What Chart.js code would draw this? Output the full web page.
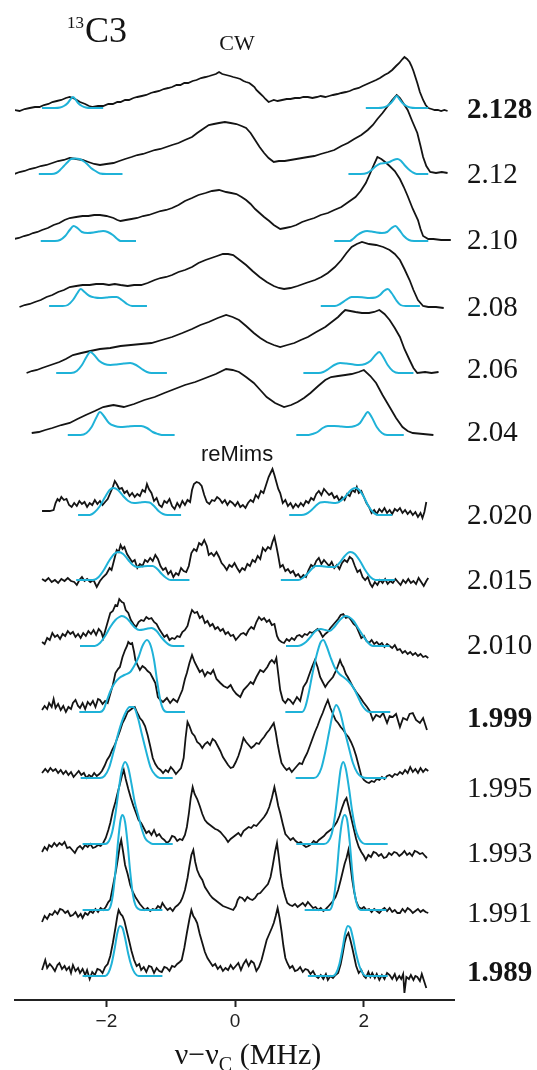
<!DOCTYPE html>
<html>
<head>
<meta charset="utf-8">
<script src="https://cdn.jsdelivr.net/npm/chart.js@4.4.1/dist/chart.umd.min.js"></script>
<style>
  html, body { margin: 0; padding: 0; background: #fff; }
  #wrap { position: relative; width: 537px; height: 1070px; }
</style>
</head>
<body>
<div id="wrap"><canvas id="spectra" width="537" height="1070"></canvas></div>
<script>
// g-value of each field position, top to bottom
const cwFields = ['2.128', '2.12', '2.10', '2.08', '2.06', '2.04'];
const reFields = ['2.020', '2.015', '2.010', '1.999', '1.995', '1.993', '1.991', '1.989'];
const boldFields = ['2.128', '1.999', '1.989'];

// stacking offset of each trace (a.u.), same order as the fields
const traceOffsets = [889, 827, 761, 693, 627, 565, 485, 420, 354, 288, 222, 156, 90, 24];
const labelLevels = [889, 825, 759, 692, 630, 567, 484, 419, 354, 280, 211, 146, 86, 26];

const xTicks = [-2, 0, 2];

// CW spectra: [nu - nuC (MHz), intensity]
const cw2128 = [[-3.43,1],[-3.35,0],[-3.27,2],[-3.19,3],[-3.11,4],[-3.04,4],[-2.97,6],[-2.90,7],[-2.84,9],[-2.77,10],[-2.70,11],[-2.63,13],[-2.57,14],[-2.52,13],[-2.46,11],[-2.41,9],[-2.33,7],[-2.27,5],[-2.21,4],[-2.13,5],[-2.05,5],[-1.97,7],[-1.90,7],[-1.83,9],[-1.78,9],[-1.71,11],[-1.65,11],[-1.58,13],[-1.52,14],[-1.45,15],[-1.38,16],[-1.31,18],[-1.25,19],[-1.18,20],[-1.11,22],[-1.04,23],[-0.98,24],[-0.91,26],[-0.85,26],[-0.79,28],[-0.73,28],[-0.66,30],[-0.60,31],[-0.53,33],[-0.46,34],[-0.40,35],[-0.35,36],[-0.30,37],[-0.25,39],[-0.20,37],[-0.14,36],[-0.08,35],[-0.03,34],[0.03,33],[0.08,32],[0.13,30],[0.17,29],[0.22,28],[0.26,26],[0.30,24],[0.33,21],[0.38,18],[0.43,15],[0.47,12],[0.52,9],[0.56,10],[0.60,11],[0.66,10],[0.73,11],[0.80,12],[0.86,12],[0.93,13],[1.00,13],[1.06,14],[1.13,14],[1.20,13],[1.27,14],[1.33,15],[1.40,14],[1.46,15],[1.52,16],[1.59,17],[1.65,18],[1.72,19],[1.78,20],[1.85,22],[1.92,23],[1.98,25],[2.05,27],[2.12,29],[2.19,31],[2.25,33],[2.32,36],[2.38,38],[2.44,41],[2.50,45],[2.55,48],[2.60,52],[2.63,54],[2.67,52],[2.71,49],[2.74,45],[2.77,40],[2.80,34],[2.83,28],[2.87,19],[2.92,11],[2.96,6],[3.00,3],[3.05,2],[3.10,1],[3.15,1],[3.20,0],[3.25,1],[3.30,0]];
const cw212 = [[-3.43,-1],[-3.35,1],[-3.27,2],[-3.19,4],[-3.11,5],[-3.02,7],[-2.93,8],[-2.84,10],[-2.75,12],[-2.66,13],[-2.57,15],[-2.47,14],[-2.37,13],[-2.28,11],[-2.19,9],[-2.10,8],[-2.00,9],[-1.89,10],[-1.80,12],[-1.71,14],[-1.61,16],[-1.52,18],[-1.43,19],[-1.34,21],[-1.25,23],[-1.16,24],[-1.07,26],[-0.98,28],[-0.88,30],[-0.78,33],[-0.67,36],[-0.59,40],[-0.50,44],[-0.41,48],[-0.33,49],[-0.25,50],[-0.16,51],[-0.07,50],[0.02,49],[0.10,47],[0.17,45],[0.24,40],[0.31,33],[0.38,26],[0.45,20],[0.52,15],[0.60,11],[0.68,12],[0.77,12],[0.86,13],[0.95,14],[1.04,15],[1.13,16],[1.23,17],[1.33,19],[1.44,21],[1.54,23],[1.65,27],[1.75,30],[1.85,34],[1.96,38],[2.06,43],[2.14,48],[2.21,54],[2.29,60],[2.36,66],[2.44,73],[2.51,78],[2.56,75],[2.62,69],[2.68,63],[2.75,52],[2.83,40],[2.88,27],[2.92,16],[2.97,7],[3.03,1],[3.12,0],[3.21,1],[3.30,0]];
const cw210 = [[-3.44,0],[-3.36,1],[-3.28,3],[-3.21,4],[-3.14,6],[-3.07,7],[-3.00,9],[-2.91,11],[-2.82,14],[-2.73,16],[-2.65,19],[-2.57,21],[-2.47,22],[-2.37,23],[-2.28,23],[-2.19,24],[-2.10,24],[-2.00,23],[-1.89,21],[-1.83,19],[-1.78,18],[-1.70,19],[-1.61,20],[-1.52,21],[-1.43,23],[-1.34,24],[-1.25,26],[-1.16,28],[-1.07,29],[-0.98,31],[-0.88,34],[-0.78,38],[-0.67,41],[-0.57,44],[-0.46,46],[-0.36,48],[-0.25,49],[-0.14,47],[-0.06,46],[0.02,45],[0.10,42],[0.17,39],[0.24,35],[0.31,30],[0.38,26],[0.45,22],[0.53,18],[0.60,14],[0.70,10],[0.78,11],[0.86,12],[0.95,14],[1.04,17],[1.13,19],[1.23,21],[1.33,24],[1.44,26],[1.54,29],[1.65,32],[1.76,37],[1.87,42],[1.95,48],[2.03,56],[2.10,66],[2.16,75],[2.21,82],[2.27,80],[2.33,77],[2.40,73],[2.48,68],[2.56,60],[2.62,52],[2.68,43],[2.76,30],[2.84,19],[2.88,10],[2.92,3],[3.00,0],[3.08,0],[3.20,-1],[3.35,-1]];
const cw208 = [[-3.35,0],[-3.27,2],[-3.19,3],[-3.11,5],[-3.02,7],[-2.93,10],[-2.84,12],[-2.75,15],[-2.66,17],[-2.57,20],[-2.47,21],[-2.37,22],[-2.26,22],[-2.16,23],[-2.05,23],[-1.96,22],[-1.87,23],[-1.78,22],[-1.67,21],[-1.57,22],[-1.46,22],[-1.36,24],[-1.25,27],[-1.16,29],[-1.07,30],[-0.98,32],[-0.88,35],[-0.78,37],[-0.67,40],[-0.57,44],[-0.46,47],[-0.37,49],[-0.28,51],[-0.19,53],[-0.11,53],[-0.03,52],[0.07,47],[0.17,42],[0.27,36],[0.38,30],[0.49,25],[0.60,21],[0.68,19],[0.76,18],[0.86,19],[0.97,21],[1.10,24],[1.24,27],[1.34,30],[1.44,34],[1.55,40],[1.65,47],[1.73,54],[1.81,60],[1.89,63],[1.97,65],[2.08,63],[2.19,62],[2.30,60],[2.40,57],[2.48,53],[2.56,47],[2.63,38],[2.71,27],[2.77,17],[2.84,7],[2.92,1],[3.00,0],[3.12,0],[3.24,-1]];
const cw206 = [[-3.24,0],[-3.16,2],[-3.08,3],[-3.00,5],[-2.91,7],[-2.82,9],[-2.73,11],[-2.63,14],[-2.52,18],[-2.39,20],[-2.25,22],[-2.10,24],[-1.94,25],[-1.78,27],[-1.62,28],[-1.46,29],[-1.30,30],[-1.14,33],[-0.98,36],[-0.82,40],[-0.67,44],[-0.54,48],[-0.41,51],[-0.27,55],[-0.14,58],[-0.04,56],[0.06,53],[0.17,47],[0.29,40],[0.39,35],[0.49,31],[0.60,28],[0.70,26],[0.81,28],[0.92,30],[1.02,33],[1.13,36],[1.26,41],[1.40,46],[1.50,51],[1.60,56],[1.66,60],[1.71,63],[1.79,62],[1.87,61],[1.97,60],[2.08,60],[2.16,61],[2.24,63],[2.32,59],[2.40,53],[2.48,45],[2.56,36],[2.63,24],[2.71,13],[2.77,5],[2.83,0],[2.95,1],[3.05,0],[3.16,1]];
const cw204 = [[-3.16,2],[-3.05,3],[-2.95,5],[-2.84,7],[-2.70,10],[-2.57,12],[-2.45,16],[-2.32,20],[-2.18,24],[-2.05,28],[-1.97,29],[-1.89,30],[-1.81,29],[-1.73,28],[-1.57,31],[-1.41,35],[-1.25,38],[-1.10,42],[-0.94,46],[-0.78,50],[-0.62,53],[-0.46,57],[-0.30,61],[-0.14,66],[-0.04,65],[0.06,63],[0.17,58],[0.29,52],[0.39,45],[0.49,38],[0.62,32],[0.76,28],[0.87,30],[0.97,33],[1.07,37],[1.17,42],[1.29,49],[1.40,55],[1.49,58],[1.60,59],[1.71,60],[1.81,61],[1.92,63],[2.00,65],[2.10,59],[2.19,52],[2.29,40],[2.40,28],[2.50,17],[2.60,8],[2.68,4],[2.76,2],[2.92,1],[3.08,0]];

// reMims spectra
const re2020 = [[-3.00,4],[-2.94,4],[-2.88,4],[-2.82,5],[-2.79,12],[-2.76,16],[-2.73,14],[-2.70,18],[-2.66,15],[-2.62,16],[-2.58,10],[-2.54,8],[-2.50,12],[-2.46,9],[-2.42,14],[-2.38,11],[-2.34,13],[-2.30,8],[-2.26,12],[-2.22,10],[-2.18,15],[-2.14,11],[-2.10,14],[-2.06,10],[-2.02,13],[-1.98,16],[-1.94,22],[-1.90,28],[-1.87,34],[-1.84,31],[-1.80,26],[-1.76,27],[-1.72,22],[-1.68,24],[-1.64,19],[-1.60,22],[-1.56,18],[-1.52,21],[-1.48,19],[-1.44,25],[-1.40,23],[-1.37,31],[-1.34,26],[-1.30,22],[-1.26,14],[-1.22,17],[-1.18,10],[-1.14,8],[-1.10,14],[-1.06,12],[-1.02,16],[-0.98,9],[-0.94,6],[-0.90,12],[-0.86,8],[-0.82,14],[-0.78,10],[-0.74,15],[-0.70,13],[-0.67,25],[-0.64,31],[-0.60,33],[-0.56,32],[-0.52,29],[-0.48,20],[-0.44,13],[-0.40,11],[-0.36,15],[-0.32,14],[-0.28,18],[-0.24,16],[-0.20,12],[-0.16,15],[-0.12,10],[-0.08,14],[-0.04,12],[0.00,9],[0.04,13],[0.08,8],[0.12,10],[0.16,7],[0.20,12],[0.24,15],[0.28,13],[0.32,20],[0.36,17],[0.40,24],[0.44,22],[0.48,30],[0.52,38],[0.55,42],[0.58,46],[0.61,40],[0.64,33],[0.67,26],[0.70,22],[0.74,12],[0.78,15],[0.82,9],[0.86,12],[0.90,7],[0.94,11],[0.98,8],[1.02,12],[1.06,9],[1.10,14],[1.14,12],[1.18,17],[1.22,15],[1.26,21],[1.30,24],[1.34,20],[1.38,26],[1.42,23],[1.46,20],[1.50,22],[1.54,17],[1.58,19],[1.62,14],[1.66,18],[1.70,15],[1.74,21],[1.78,19],[1.82,25],[1.86,23],[1.89,28],[1.92,22],[1.96,24],[2.00,18],[2.04,12],[2.08,8],[2.12,2],[2.16,5],[2.20,1],[2.24,6],[2.28,3],[2.32,7],[2.36,2],[2.40,5],[2.44,1],[2.48,6],[2.52,4],[2.56,7],[2.60,2],[2.64,5],[2.68,1],[2.72,4],[2.76,0],[2.80,3],[2.84,-2],[2.88,2],[2.91,-3],[2.94,3],[2.97,13]];
const re2015 = [[-3.00,1],[-2.95,-1],[-2.90,2],[-2.85,-2],[-2.80,0],[-2.75,-3],[-2.70,1],[-2.65,-1],[-2.60,2],[-2.55,-1],[-2.50,-2],[-2.46,-5],[-2.42,0],[-2.38,3],[-2.34,-1],[-2.30,1],[-2.25,-2],[-2.20,0],[-2.15,-7],[-2.10,-1],[-2.05,3],[-2.00,6],[-1.95,12],[-1.92,10],[-1.88,20],[-1.84,30],[-1.81,28],[-1.78,35],[-1.75,31],[-1.72,33],[-1.68,26],[-1.64,22],[-1.60,18],[-1.56,20],[-1.52,12],[-1.48,16],[-1.44,14],[-1.40,20],[-1.36,18],[-1.32,22],[-1.28,19],[-1.24,25],[-1.20,21],[-1.16,14],[-1.12,10],[-1.08,12],[-1.04,6],[-1.00,9],[-0.96,3],[-0.92,7],[-0.88,5],[-0.84,12],[-0.80,9],[-0.76,8],[-0.72,14],[-0.68,27],[-0.64,31],[-0.60,29],[-0.56,37],[-0.52,35],[-0.48,40],[-0.44,34],[-0.41,25],[-0.37,27],[-0.33,24],[-0.29,28],[-0.25,23],[-0.21,17],[-0.17,14],[-0.13,10],[-0.09,15],[-0.05,13],[-0.01,17],[0.03,12],[0.07,8],[0.11,12],[0.15,10],[0.19,16],[0.23,14],[0.27,20],[0.31,18],[0.35,24],[0.39,21],[0.43,32],[0.47,29],[0.51,33],[0.55,31],[0.58,38],[0.61,43],[0.64,34],[0.67,24],[0.70,13],[0.74,15],[0.78,9],[0.82,11],[0.86,7],[0.90,9],[0.94,4],[0.98,6],[1.02,2],[1.06,5],[1.10,3],[1.14,10],[1.18,15],[1.22,13],[1.26,19],[1.30,22],[1.34,16],[1.38,20],[1.42,17],[1.46,14],[1.50,18],[1.54,12],[1.58,15],[1.62,11],[1.66,17],[1.70,20],[1.74,18],[1.78,23],[1.82,21],[1.86,14],[1.90,8],[1.94,10],[1.98,3],[2.02,0],[2.06,3],[2.10,-4],[2.13,-7],[2.17,-2],[2.21,-5],[2.25,0],[2.29,-3],[2.33,1],[2.37,-4],[2.41,-1],[2.45,-3],[2.49,1],[2.53,-2],[2.57,-5],[2.61,0],[2.65,-3],[2.69,1],[2.73,-3],[2.77,-1],[2.81,-4],[2.85,2],[2.89,-2],[2.93,-6],[2.97,-1],[3.00,2]];
const re2010 = [[-3.00,4],[-2.96,2],[-2.92,8],[-2.88,6],[-2.84,13],[-2.80,9],[-2.76,11],[-2.72,7],[-2.68,12],[-2.64,10],[-2.60,15],[-2.56,12],[-2.52,14],[-2.48,9],[-2.44,12],[-2.40,8],[-2.36,13],[-2.32,10],[-2.28,15],[-2.24,12],[-2.20,16],[-2.16,11],[-2.12,17],[-2.08,14],[-2.05,8],[-2.02,15],[-1.98,24],[-1.94,33],[-1.90,35],[-1.86,41],[-1.83,40],[-1.80,47],[-1.76,44],[-1.73,43],[-1.70,36],[-1.66,33],[-1.62,26],[-1.58,22],[-1.54,19],[-1.50,24],[-1.46,26],[-1.42,25],[-1.38,29],[-1.34,27],[-1.30,28],[-1.26,24],[-1.22,22],[-1.18,17],[-1.14,13],[-1.10,9],[-1.06,11],[-1.02,6],[-0.98,8],[-0.94,7],[-0.90,10],[-0.86,9],[-0.82,14],[-0.78,16],[-0.74,20],[-0.70,30],[-0.67,36],[-0.63,33],[-0.59,34],[-0.55,28],[-0.51,30],[-0.47,23],[-0.43,25],[-0.39,20],[-0.35,22],[-0.31,17],[-0.27,19],[-0.23,15],[-0.19,17],[-0.15,12],[-0.11,14],[-0.07,10],[-0.03,11],[0.01,6],[0.05,9],[0.09,12],[0.13,13],[0.17,11],[0.21,16],[0.25,19],[0.29,17],[0.33,24],[0.37,29],[0.41,26],[0.45,28],[0.49,24],[0.53,26],[0.57,21],[0.61,22],[0.65,10],[0.68,6],[0.72,4],[0.76,3],[0.80,7],[0.84,5],[0.88,8],[0.92,6],[0.96,10],[1.00,11],[1.04,9],[1.08,12],[1.12,11],[1.16,14],[1.20,13],[1.24,15],[1.28,17],[1.32,14],[1.36,9],[1.40,12],[1.44,14],[1.48,18],[1.52,21],[1.56,24],[1.60,27],[1.64,31],[1.68,32],[1.72,28],[1.76,29],[1.80,26],[1.84,22],[1.88,20],[1.92,14],[1.96,8],[2.00,10],[2.04,5],[2.08,3],[2.12,6],[2.16,2],[2.20,4],[2.24,1],[2.28,3],[2.32,-1],[2.36,2],[2.40,0],[2.44,-2],[2.48,1],[2.52,-4],[2.56,-3],[2.60,-7],[2.64,-5],[2.68,-8],[2.72,-6],[2.76,-9],[2.80,-7],[2.84,-10],[2.88,-8],[2.92,-11],[2.96,-10],[3.00,-12]];
const re1999 = [[-3.00,2],[-2.96,6],[-2.92,3],[-2.89,9],[-2.85,5],[-2.82,13],[-2.79,4],[-2.75,8],[-2.71,2],[-2.67,6],[-2.63,0],[-2.59,5],[-2.55,3],[-2.52,9],[-2.48,12],[-2.44,6],[-2.41,4],[-2.37,9],[-2.33,3],[-2.29,10],[-2.25,7],[-2.21,11],[-2.17,5],[-2.13,13],[-2.10,12],[-2.06,8],[-2.02,11],[-1.98,9],[-1.94,18],[-1.90,27],[-1.86,39],[-1.82,43],[-1.79,45],[-1.75,55],[-1.71,62],[-1.68,66],[-1.66,70],[-1.63,68],[-1.60,69],[-1.57,60],[-1.55,52],[-1.51,46],[-1.48,42],[-1.44,46],[-1.40,44],[-1.36,41],[-1.32,39],[-1.28,34],[-1.24,29],[-1.20,15],[-1.16,12],[-1.12,10],[-1.06,14],[-1.01,9],[-0.96,13],[-0.90,10],[-0.86,16],[-0.82,22],[-0.78,33],[-0.75,39],[-0.71,49],[-0.67,57],[-0.63,50],[-0.59,45],[-0.55,40],[-0.51,42],[-0.47,36],[-0.43,40],[-0.38,38],[-0.34,42],[-0.29,33],[-0.23,29],[-0.18,26],[-0.12,24],[-0.07,27],[-0.03,22],[0.02,18],[0.08,15],[0.13,22],[0.19,26],[0.24,30],[0.28,28],[0.33,35],[0.39,42],[0.44,40],[0.50,45],[0.54,50],[0.57,52],[0.61,49],[0.64,54],[0.67,38],[0.70,22],[0.74,12],[0.78,9],[0.82,13],[0.85,12],[0.90,8],[0.96,15],[1.01,11],[1.06,25],[1.11,30],[1.16,39],[1.20,46],[1.24,52],[1.28,45],[1.32,35],[1.36,30],[1.40,25],[1.44,29],[1.48,32],[1.52,35],[1.55,39],[1.59,45],[1.63,52],[1.66,47],[1.68,45],[1.72,38],[1.75,35],[1.79,30],[1.83,25],[1.88,20],[1.94,15],[1.99,10],[2.05,5],[2.09,1],[2.14,-8],[2.19,-3],[2.25,-5],[2.30,-1],[2.36,-11],[2.40,-4],[2.45,-5],[2.50,-2],[2.56,-15],[2.61,-6],[2.67,-8],[2.71,-2],[2.76,-1],[2.81,-8],[2.87,-11],[2.92,-6],[2.98,-18]];
const re1995 = [[-3.00,5],[-2.95,9],[-2.91,6],[-2.87,10],[-2.83,7],[-2.79,9],[-2.75,5],[-2.71,8],[-2.67,4],[-2.63,7],[-2.59,3],[-2.55,6],[-2.51,1],[-2.47,4],[-2.43,7],[-2.39,3],[-2.35,5],[-2.31,0],[-2.27,3],[-2.23,1],[-2.19,5],[-2.15,2],[-2.11,4],[-2.07,7],[-2.03,12],[-1.99,18],[-1.95,22],[-1.91,28],[-1.87,33],[-1.83,40],[-1.79,47],[-1.75,55],[-1.71,60],[-1.67,66],[-1.63,68],[-1.59,70],[-1.56,71],[-1.52,65],[-1.48,60],[-1.44,57],[-1.40,52],[-1.36,43],[-1.32,32],[-1.28,20],[-1.24,14],[-1.20,10],[-1.16,8],[-1.12,5],[-1.08,8],[-1.04,6],[-1.00,11],[-0.96,8],[-0.92,4],[-0.88,7],[-0.84,10],[-0.80,20],[-0.77,40],[-0.74,56],[-0.71,52],[-0.67,45],[-0.63,42],[-0.59,36],[-0.55,34],[-0.51,30],[-0.47,34],[-0.43,36],[-0.39,33],[-0.35,39],[-0.31,37],[-0.27,32],[-0.23,27],[-0.19,21],[-0.15,17],[-0.11,13],[-0.07,10],[-0.03,11],[0.01,16],[0.05,22],[0.09,30],[0.13,40],[0.17,36],[0.21,33],[0.25,30],[0.29,32],[0.33,35],[0.37,34],[0.41,38],[0.45,41],[0.49,45],[0.53,48],[0.57,52],[0.60,55],[0.63,46],[0.66,34],[0.69,24],[0.72,15],[0.76,11],[0.80,8],[0.84,10],[0.88,6],[0.92,9],[0.96,12],[1.00,15],[1.04,14],[1.08,20],[1.12,25],[1.16,32],[1.20,39],[1.24,46],[1.28,52],[1.32,59],[1.36,65],[1.40,72],[1.44,78],[1.48,70],[1.52,64],[1.56,58],[1.60,55],[1.64,51],[1.68,48],[1.72,44],[1.76,41],[1.80,36],[1.84,30],[1.88,22],[1.92,12],[1.96,2],[2.00,-2],[2.04,-4],[2.08,-5],[2.12,-3],[2.16,-4],[2.20,-1],[2.24,-2],[2.28,1],[2.32,-1],[2.36,2],[2.40,3],[2.44,1],[2.48,4],[2.52,3],[2.56,6],[2.60,4],[2.64,8],[2.68,5],[2.72,11],[2.76,6],[2.80,9],[2.84,5],[2.88,10],[2.92,6],[2.96,9],[3.00,7]];
const re1993 = [[-3.00,-8],[-2.96,-3],[-2.92,-6],[-2.89,-1],[-2.85,-3],[-2.81,1],[-2.77,-2],[-2.73,1],[-2.69,-1],[-2.65,2],[-2.61,-4],[-2.57,-3],[-2.53,-6],[-2.49,-9],[-2.45,-4],[-2.41,-2],[-2.37,-5],[-2.33,-1],[-2.29,-3],[-2.25,0],[-2.21,-4],[-2.17,-3],[-2.13,-1],[-2.09,-2],[-2.05,1],[-2.01,6],[-1.97,14],[-1.94,21],[-1.90,33],[-1.86,42],[-1.83,50],[-1.79,60],[-1.76,68],[-1.73,74],[-1.70,65],[-1.66,55],[-1.62,46],[-1.58,38],[-1.54,31],[-1.50,24],[-1.46,21],[-1.42,16],[-1.38,11],[-1.34,13],[-1.30,9],[-1.26,14],[-1.22,8],[-1.18,10],[-1.14,6],[-1.10,4],[-1.06,1],[-1.02,3],[-0.98,8],[-0.94,7],[-0.90,3],[-0.86,5],[-0.82,4],[-0.78,9],[-0.75,17],[-0.72,30],[-0.69,46],[-0.66,57],[-0.63,50],[-0.59,45],[-0.55,38],[-0.51,30],[-0.47,24],[-0.43,21],[-0.39,19],[-0.35,17],[-0.31,15],[-0.27,14],[-0.23,12],[-0.19,9],[-0.15,6],[-0.11,2],[-0.07,5],[-0.03,7],[0.01,9],[0.05,11],[0.09,8],[0.13,13],[0.17,15],[0.21,17],[0.25,16],[0.29,19],[0.33,18],[0.37,21],[0.41,24],[0.45,27],[0.49,31],[0.53,37],[0.57,46],[0.61,57],[0.64,48],[0.67,38],[0.70,31],[0.74,20],[0.78,10],[0.82,7],[0.86,4],[0.90,6],[0.94,3],[0.98,1],[1.02,2],[1.06,-1],[1.10,-3],[1.14,-2],[1.18,0],[1.22,3],[1.26,1],[1.30,4],[1.34,6],[1.38,8],[1.42,11],[1.46,13],[1.50,15],[1.54,18],[1.58,22],[1.62,28],[1.66,36],[1.70,43],[1.73,46],[1.76,38],[1.80,27],[1.84,16],[1.88,5],[1.92,-3],[1.96,-8],[2.00,-12],[2.03,-16],[2.07,-11],[2.11,-13],[2.15,-8],[2.19,-9],[2.23,-12],[2.27,-10],[2.31,-14],[2.35,-13],[2.39,-9],[2.43,-11],[2.47,-8],[2.51,-9],[2.55,-12],[2.59,-10],[2.63,-7],[2.67,-11],[2.71,-9],[2.75,-12],[2.79,-7],[2.83,-8],[2.87,-10],[2.91,-9],[2.95,-12],[2.98,-14]];
const re1991 = [[-3.00,-12],[-2.96,-6],[-2.92,-9],[-2.88,-4],[-2.84,-5],[-2.80,-1],[-2.76,-4],[-2.72,1],[-2.68,0],[-2.64,-3],[-2.60,-1],[-2.56,-6],[-2.52,-5],[-2.48,-2],[-2.44,-7],[-2.40,-4],[-2.37,-8],[-2.33,-3],[-2.29,-5],[-2.25,-1],[-2.21,-3],[-2.17,1],[-2.13,-2],[-2.09,2],[-2.05,0],[-2.01,3],[-1.97,8],[-1.94,10],[-1.91,20],[-1.88,30],[-1.85,40],[-1.82,52],[-1.79,65],[-1.77,70],[-1.74,58],[-1.71,45],[-1.67,36],[-1.63,25],[-1.59,18],[-1.55,13],[-1.52,10],[-1.48,6],[-1.44,3],[-1.40,0],[-1.36,2],[-1.32,-1],[-1.28,1],[-1.24,0],[-1.20,4],[-1.16,2],[-1.13,7],[-1.09,3],[-1.05,0],[-1.01,2],[-0.97,-1],[-0.93,3],[-0.89,5],[-0.85,8],[-0.82,12],[-0.78,20],[-0.74,32],[-0.71,44],[-0.68,55],[-0.65,60],[-0.62,48],[-0.59,40],[-0.55,34],[-0.51,30],[-0.47,23],[-0.43,19],[-0.39,15],[-0.35,12],[-0.31,10],[-0.27,8],[-0.23,6],[-0.19,4],[-0.15,3],[-0.11,2],[-0.07,1],[-0.03,0],[0.01,4],[0.04,10],[0.07,13],[0.11,12],[0.15,9],[0.19,13],[0.23,11],[0.27,10],[0.31,12],[0.35,16],[0.39,17],[0.43,20],[0.47,23],[0.51,26],[0.55,33],[0.58,43],[0.62,58],[0.65,67],[0.68,52],[0.71,35],[0.74,23],[0.78,13],[0.81,7],[0.85,5],[0.89,4],[0.93,6],[0.97,3],[1.01,5],[1.05,7],[1.09,4],[1.13,8],[1.17,5],[1.21,2],[1.25,3],[1.29,0],[1.33,2],[1.37,-1],[1.41,1],[1.44,3],[1.48,6],[1.52,9],[1.56,13],[1.60,20],[1.64,30],[1.67,38],[1.70,46],[1.73,52],[1.76,60],[1.79,45],[1.82,30],[1.85,18],[1.88,9],[1.92,3],[1.96,1],[2.00,3],[2.04,0],[2.08,1],[2.12,-2],[2.16,1],[2.20,-1],[2.24,-3],[2.28,0],[2.32,2],[2.36,-1],[2.40,2],[2.44,-2],[2.48,0],[2.52,-3],[2.56,-3],[2.60,1],[2.64,-2],[2.68,2],[2.72,0],[2.76,-3],[2.80,-1],[2.84,1],[2.88,-2],[2.92,0],[2.96,-2],[3.00,-3]];
const re1989 = [[-3.00,6],[-2.97,12],[-2.95,16],[-2.92,8],[-2.88,12],[-2.84,9],[-2.80,5],[-2.76,11],[-2.73,13],[-2.69,7],[-2.65,10],[-2.62,6],[-2.58,9],[-2.55,3],[-2.52,11],[-2.48,5],[-2.44,8],[-2.41,3],[-2.37,7],[-2.33,1],[-2.30,6],[-2.26,-3],[-2.22,4],[-2.18,1],[-2.14,7],[-2.10,6],[-2.06,3],[-2.02,9],[-1.98,12],[-1.94,20],[-1.90,33],[-1.86,48],[-1.83,60],[-1.81,66],[-1.78,62],[-1.75,60],[-1.72,55],[-1.68,44],[-1.65,36],[-1.61,25],[-1.57,16],[-1.53,10],[-1.49,12],[-1.46,6],[-1.42,9],[-1.38,4],[-1.34,10],[-1.30,9],[-1.26,3],[-1.22,8],[-1.18,5],[-1.14,4],[-1.10,9],[-1.06,8],[-1.02,5],[-0.98,10],[-0.94,9],[-0.90,12],[-0.86,14],[-0.83,16],[-0.79,28],[-0.75,43],[-0.71,57],[-0.68,66],[-0.65,60],[-0.62,57],[-0.59,53],[-0.55,42],[-0.51,33],[-0.47,24],[-0.43,18],[-0.39,14],[-0.35,10],[-0.31,12],[-0.27,7],[-0.23,10],[-0.19,5],[-0.15,8],[-0.11,6],[-0.07,11],[-0.03,7],[0.01,10],[0.05,13],[0.09,6],[0.13,12],[0.17,16],[0.21,10],[0.25,15],[0.29,13],[0.33,5],[0.37,9],[0.41,16],[0.45,26],[0.49,36],[0.53,42],[0.57,48],[0.60,53],[0.63,60],[0.66,68],[0.69,58],[0.72,45],[0.75,30],[0.78,18],[0.81,13],[0.85,8],[0.89,10],[0.93,5],[0.97,6],[1.01,9],[1.05,4],[1.09,7],[1.13,6],[1.17,2],[1.21,5],[1.25,0],[1.29,-2],[1.33,1],[1.37,-3],[1.41,2],[1.44,-4],[1.48,0],[1.52,-2],[1.56,1],[1.60,3],[1.64,12],[1.67,22],[1.70,33],[1.73,40],[1.76,43],[1.79,36],[1.82,28],[1.85,19],[1.88,10],[1.92,3],[1.96,6],[2.00,0],[2.03,-2],[2.07,4],[2.10,-1],[2.13,3],[2.17,-2],[2.20,2],[2.24,-4],[2.28,1],[2.32,-3],[2.36,3],[2.40,1],[2.44,-3],[2.48,2],[2.51,-4],[2.55,0],[2.58,-3],[2.61,2],[2.63,-17],[2.66,-1],[2.70,-3],[2.73,1],[2.77,-4],[2.80,0],[2.83,-1],[2.87,-5],[2.90,2],[2.93,-4],[2.97,-12]];

// simulated 13C features (left and right branch for each field)
const fit2128 = [[[-3.00,3],[-2.80,3],[-2.72,3.5],[-2.66,5],[-2.60,8],[-2.56,11.5],[-2.52,14],[-2.48,11.5],[-2.44,8],[-2.38,5],[-2.32,3.5],[-2.24,3],[-2.05,3]],
                 [[2.03,3],[2.22,3],[2.30,3.5],[2.36,5],[2.42,8],[2.47,12],[2.51,15],[2.55,12],[2.60,8],[2.66,5],[2.72,3.5],[2.80,3],[3.00,3]]];
const fit212 = [[[-3.05,-1],[-2.85,-1],[-2.78,0],[-2.72,3],[-2.66,7],[-2.60,11],[-2.55,14],[-2.48,14.5],[-2.42,14],[-2.36,12],[-2.30,9],[-2.24,5],[-2.17,2],[-2.10,-0.5],[-2.00,-1],[-1.75,-1]],
                [[1.76,-1],[1.95,-1],[2.05,0],[2.12,3],[2.19,7],[2.26,9.5],[2.33,10],[2.40,11],[2.46,13],[2.52,14],[2.57,12.5],[2.63,8],[2.69,4],[2.75,1],[2.82,-1],[3.00,-1]]];
const fit210 = [[[-3.02,-2],[-2.80,-2],[-2.72,-1],[-2.64,3],[-2.57,9],[-2.51,13],[-2.45,11],[-2.38,7],[-2.29,6],[-2.20,6.5],[-2.12,7.5],[-2.05,8],[-1.98,7],[-1.90,4],[-1.83,0],[-1.78,-2],[-1.54,-2]],
                [[1.54,-2],[1.78,-2],[1.83,0],[1.90,4],[1.98,7],[2.05,8],[2.12,7.5],[2.20,6.5],[2.28,6],[2.36,7],[2.43,11],[2.49,13],[2.55,9],[2.62,3],[2.70,-1],[2.78,-2],[3.00,-2]]];
const fit208 = [[[-2.89,1],[-2.68,1],[-2.60,2],[-2.52,7],[-2.45,14],[-2.40,18],[-2.34,15],[-2.26,11],[-2.18,9.5],[-2.10,9],[-2.00,9.5],[-1.91,10],[-1.84,10],[-1.76,7],[-1.68,3],[-1.60,1],[-1.37,1]],
                [[1.33,1],[1.55,1],[1.63,3],[1.72,7],[1.81,10],[1.90,10],[2.00,9.5],[2.08,9],[2.18,9.5],[2.25,12],[2.31,16],[2.37,18],[2.43,14],[2.50,7],[2.57,2],[2.65,1],[2.87,1]]];
const fit206 = [[[-2.78,0],[-2.55,0],[-2.46,2],[-2.38,8],[-2.31,16],[-2.25,21],[-2.19,18],[-2.11,12],[-2.03,9],[-1.94,8],[-1.84,8.5],[-1.73,9.5],[-1.63,10],[-1.54,8],[-1.45,4],[-1.37,1],[-1.30,0],[-1.06,0]],
                [[1.06,0],[1.30,0],[1.37,1],[1.45,4],[1.54,8],[1.63,10],[1.73,9.5],[1.84,8.5],[1.92,8],[2.02,9],[2.10,12],[2.18,18],[2.24,21],[2.30,16],[2.37,8],[2.45,2],[2.54,0],[2.77,0]]];
const fit204 = [[[-2.60,0],[-2.40,0],[-2.31,2],[-2.23,8],[-2.16,17],[-2.10,23],[-2.04,19],[-1.96,12],[-1.87,9],[-1.78,8],[-1.67,8.5],[-1.56,9],[-1.46,9],[-1.37,7],[-1.28,3],[-1.20,1],[-1.14,0],[-0.94,0]],
                [[0.95,0],[1.14,0],[1.20,1],[1.28,3],[1.36,7],[1.44,9],[1.54,9],[1.65,8.5],[1.76,8],[1.86,9],[1.94,12],[2.00,18],[2.06,23],[2.12,18],[2.20,8],[2.28,2],[2.36,0],[2.62,0]]];
const fit2020 = [[[-2.44,0],[-2.26,0],[-2.18,3],[-2.10,9],[-2.02,18],[-1.95,25],[-1.89,27],[-1.82,25],[-1.74,19],[-1.66,14],[-1.57,12],[-1.48,12.5],[-1.40,13],[-1.33,12.5],[-1.26,9],[-1.19,4],[-1.12,1],[-1.05,0],[-0.84,0]],
                 [[0.84,0],[1.03,0],[1.10,1],[1.17,4],[1.25,9],[1.32,12.5],[1.39,13],[1.47,12.5],[1.56,12],[1.64,14],[1.72,19],[1.80,25],[1.87,27],[1.93,25],[2.00,18],[2.07,9],[2.14,3],[2.22,0],[2.44,0]]];
const fit2015 = [[[-2.47,0],[-2.20,0],[-2.12,3],[-2.04,10],[-1.96,19],[-1.88,26],[-1.81,28],[-1.74,26],[-1.66,20],[-1.59,15],[-1.52,13],[-1.44,13.5],[-1.36,14],[-1.28,14],[-1.21,11],[-1.14,6],[-1.07,2],[-1.00,0],[-0.71,0]],
                 [[0.71,0],[0.98,0],[1.05,2],[1.12,6],[1.19,11],[1.25,14],[1.31,14],[1.39,13.5],[1.47,13],[1.55,13],[1.62,17],[1.69,23],[1.75,27],[1.79,28],[1.86,26],[1.94,19],[2.02,10],[2.10,3],[2.18,0],[2.48,0]]];
const fit2010 = [[[-2.41,0],[-2.18,0],[-2.10,3],[-2.02,10],[-1.94,19],[-1.86,26],[-1.80,29],[-1.76,30],[-1.69,28],[-1.62,23],[-1.55,18],[-1.49,16],[-1.42,16.5],[-1.36,17.5],[-1.30,18],[-1.22,15],[-1.15,9],[-1.08,4],[-1.02,1],[-0.96,0],[-0.79,0]],
                 [[0.79,0],[0.97,0],[1.03,1],[1.10,4],[1.17,9],[1.25,15],[1.33,17],[1.40,16],[1.47,15],[1.54,19],[1.60,24],[1.66,28],[1.71,30],[1.77,29],[1.84,25],[1.92,17],[2.00,9],[2.07,3],[2.14,0],[2.40,0]]];
const fit1999 = [[[-2.42,0],[-2.10,0],[-2.04,3],[-1.99,12],[-1.93,22],[-1.87,29],[-1.80,34],[-1.72,37],[-1.63,40],[-1.56,47],[-1.50,55],[-1.44,66],[-1.37,72],[-1.31,66],[-1.26,52],[-1.21,30],[-1.16,11],[-1.12,3],[-1.06,0],[-0.78,0]],
                 [[0.78,0],[1.04,0],[1.09,5],[1.14,18],[1.20,38],[1.27,58],[1.33,70],[1.37,72],[1.42,66],[1.48,55],[1.55,44],[1.62,38],[1.70,34],[1.77,30],[1.84,24],[1.91,15],[1.97,7],[2.03,2],[2.09,0],[2.41,0]]];
const fit1995 = [[[-2.40,0],[-2.10,0],[-2.03,2],[-1.96,10],[-1.89,26],[-1.81,46],[-1.72,63],[-1.64,71],[-1.58,71],[-1.51,60],[-1.45,44],[-1.38,26],[-1.31,10],[-1.24,3],[-1.17,0],[-0.97,0]],
                 [[0.94,0],[1.22,0],[1.28,2],[1.34,10],[1.40,26],[1.46,46],[1.52,65],[1.57,73],[1.63,66],[1.69,50],[1.76,32],[1.83,15],[1.90,5],[1.97,1],[2.05,0],[2.35,0]]];
const fit1993 = [[[-2.37,0],[-2.02,0],[-1.96,3],[-1.91,12],[-1.86,30],[-1.81,54],[-1.76,74],[-1.71,82],[-1.66,76],[-1.61,60],[-1.56,42],[-1.50,27],[-1.45,15],[-1.40,6],[-1.34,2],[-1.28,0],[-0.97,0]],
                 [[0.95,0],[1.38,0],[1.44,2],[1.50,10],[1.55,28],[1.60,55],[1.64,75],[1.68,82],[1.72,75],[1.77,55],[1.82,32],[1.87,15],[1.92,6],[1.98,1],[2.05,0],[2.37,0]]];
const fit1991 = [[[-2.37,0],[-1.98,0],[-1.94,3],[-1.90,15],[-1.86,38],[-1.82,68],[-1.78,90],[-1.75,95],[-1.71,88],[-1.67,66],[-1.63,38],[-1.59,16],[-1.55,5],[-1.50,1],[-1.45,0],[-1.13,0]],
                 [[1.08,0],[1.46,0],[1.50,3],[1.54,15],[1.58,38],[1.62,68],[1.66,88],[1.70,95],[1.74,90],[1.78,68],[1.82,38],[1.86,15],[1.90,4],[1.95,0],[2.35,0]]];
const fit1989 = [[[-2.37,0],[-2.02,0],[-1.97,3],[-1.92,12],[-1.87,28],[-1.83,43],[-1.79,50],[-1.75,48],[-1.71,38],[-1.66,22],[-1.61,10],[-1.56,3],[-1.50,0],[-1.13,0]],
                 [[1.13,0],[1.52,0],[1.57,3],[1.62,12],[1.67,28],[1.71,43],[1.75,50],[1.79,48],[1.83,38],[1.88,22],[1.93,10],[1.98,3],[2.03,0],[2.37,0]]];

const fields = cwFields.concat(reFields);
const spectra = [cw2128, cw212, cw210, cw208, cw206, cw204, re2020, re2015, re2010, re1999, re1995, re1993, re1991, re1989];
const fits = [fit2128, fit212, fit210, fit208, fit206, fit204, fit2020, fit2015, fit2010, fit1999, fit1995, fit1993, fit1991, fit1989];

const SERIF = '"Liberation Serif", "Times New Roman", serif';
const SANS = '"Liberation Sans", Arial, sans-serif';
const ink = '#141414';
const simColor = '#1fb2d8';

function shifted(points, off) {
    return points.map(p => ({ x: p[0], y: p[1] + off }));
}

const datasets = [];
spectra.forEach((s, i) => {
    datasets.push({
        data: shifted(s, traceOffsets[i]),
        borderColor: ink,
        borderWidth: 1.8,
        pointRadius: 0,
        tension: 0,
        order: 2
    });
});
fits.forEach((pair, i) => {
    pair.forEach(branch => {
        datasets.push({
            data: shifted(branch, traceOffsets[i]),
            borderColor: simColor,
            borderWidth: 2,
            pointRadius: 0,
            cubicInterpolationMode: 'monotone',
            order: 1
        });
    });
});

// text that sits in the plot: field labels, panel headers, axis title
const annotate = {
    id: 'annotate',
    afterDraw(chart) {
        const { ctx, scales: { x, y } } = chart;
        ctx.save();
        ctx.fillStyle = ink;
        ctx.textBaseline = 'middle';
        ctx.textAlign = 'left';
        fields.forEach((f, i) => {
            ctx.font = (boldFields.includes(f) ? 'bold ' : '') + '29px ' + SERIF;
            ctx.fillText(f, x.right + 13, y.getPixelForValue(labelLevels[i]));
        });

        ctx.textBaseline = 'alphabetic';
        // 13C3 tag
        ctx.font = '17px ' + SERIF;
        ctx.fillText('13', 67, 28);
        ctx.font = '36px ' + SERIF;
        ctx.fillText('C3', 85, 42);

        ctx.textAlign = 'center';
        ctx.font = '22px ' + SERIF;
        ctx.fillText('CW', x.getPixelForValue(0.03), 50);
        ctx.font = '22px ' + SANS;
        ctx.fillText('reMims', x.getPixelForValue(0.03), 461);

        // axis title with subscript
        ctx.textAlign = 'left';
        const big = '30px ' + SERIF, small = '20px ' + SERIF;
        const a = '\u03bd\u2212\u03bd', sub = 'C', b = ' (MHz)';
        ctx.font = big; const wa = ctx.measureText(a).width, wb = ctx.measureText(b).width;
        ctx.font = small; const ws = ctx.measureText(sub).width;
        let tx = x.getPixelForValue(0.2) - (wa + ws + wb) / 2;
        const ty = 1064;
        ctx.font = big; ctx.fillText(a, tx, ty); tx += wa;
        ctx.font = small; ctx.fillText(sub, tx, ty + 7); tx += ws;
        ctx.font = big; ctx.fillText(b, tx, ty);
        ctx.restore();
    }
};

new Chart(document.getElementById('spectra'), {
    type: 'line',
    data: { datasets },
    options: {
        responsive: false,
        animation: false,
        devicePixelRatio: 1,
        events: [],
        layout: { padding: { left: 15, right: 83, top: 0, bottom: 0 } },
        plugins: { legend: { display: false }, tooltip: { enabled: false } },
        scales: {
            x: {
                type: 'linear',
                min: -3.42,
                max: 3.40,
                afterBuildTicks: s => { s.ticks = xTicks.map(v => ({ value: v })); },
                afterFit: s => { s.height = 70; },
                grid: { drawOnChartArea: false, drawTicks: true, tickLength: 7, tickWidth: 2, tickColor: '#222' },
                border: { display: true, color: '#222', width: 2 },
                ticks: {
                    padding: 3,
                    color: '#222',
                    font: { family: SANS, size: 19 },
                    callback: v => (v < 0 ? '\u2212' + Math.abs(v) : String(v))
                }
            },
            y: { display: false, min: 0, max: 1000 }
        }
    },
    plugins: [annotate]
});
</script>
</body>
</html>
